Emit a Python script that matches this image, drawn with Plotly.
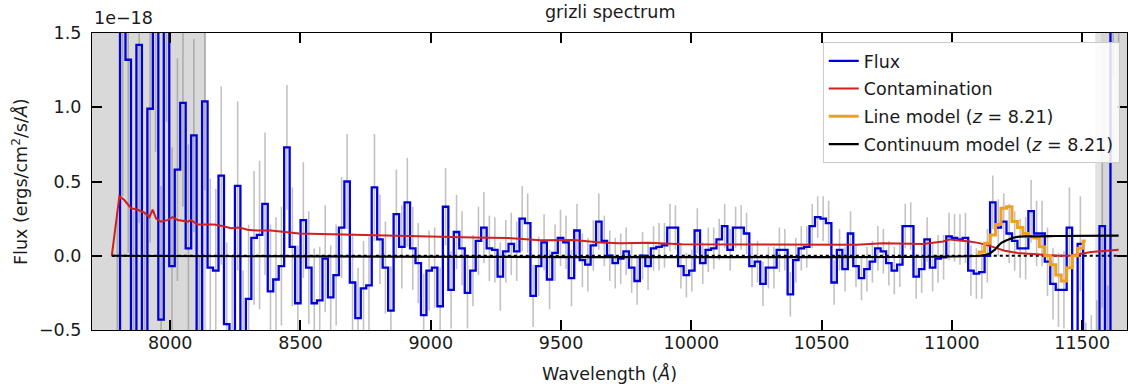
import numpy as np
import plotly.graph_objects as go

# ---------------------------------------------------------------------------
# 1D grism spectrum (flux in units of 1e-18 erg/s/cm^2/Å)
# ---------------------------------------------------------------------------
WAVE_START = 7776.0   # Å, centre of the first spectral pixel
WAVE_STEP = 21.0      # Å per spectral pixel

FLUX = [
    np.nan, -0.90, 1.90, 1.32, -0.80, 1.42, -0.70, 0.99, 1.70, -0.43,
    1.80, -0.07, 0.58, 1.03, 0.05, 0.81, -0.70, 1.04, -0.08, -0.10,
    0.54, -0.46, -0.60, 0.47, -0.60, -0.29, 0.12, 0.14, 0.35, -0.24,
    -0.16, -0.07, 0.73, 0.06, -0.32, 0.24, -0.08, -0.32, -0.30, -0.02,
    -0.28, -0.13, 0.19, 0.50, -0.18, -0.42, -0.22, -0.20, 0.46, 0.11,
    -0.08, -0.37, 0.28, 0.06, 0.36, 0.05, -0.05, -0.40, -0.10, -0.08,
    -0.34, 0.33, -0.23, 0.16, 0.05, -0.25, -0.10, 0.10, 0.19, 0.05,
    0.04, -0.14, 0.03, 0.08, 0.03, 0.25, 0.22, -0.27, -0.07, 0.09,
    -0.16, 0.02, 0.12, 0.09, -0.15, 0.17, -0.03, -0.06, 0.07, 0.23,
    0.10, 0.00, -0.05, -0.02, 0.03, -0.08, -0.17, 0.00, -0.07, 0.05,
    0.06, 0.07, 0.19, 0.19, -0.07, -0.13, -0.10, 0.17, -0.05, 0.04,
    0.05, 0.11, 0.20, 0.04, 0.19, 0.19, 0.15, -0.07, -0.04, -0.19,
    -0.08, -0.08, 0.04, 0.04, -0.26, -0.03, 0.05, 0.06, 0.20, 0.26,
    0.25, 0.22, -0.18, 0.04, -0.09, 0.15, -0.07, -0.15, -0.09, -0.04,
    0.05, 0.03, -0.05, -0.10, -0.06, 0.20, 0.20, -0.14, -0.09, 0.11,
    -0.08, -0.02, -0.01, 0.13, 0.12, 0.11, 0.12, -0.10, -0.12, -0.11,
    0.00, 0.36, 0.19, 0.23, 0.15, 0.10, 0.05, 0.05, 0.30, 0.15,
    0.15, -0.04, -0.19, -0.23, -0.23, 0.19, -0.80, 0.08, -0.80, -0.80,
    -0.80, 0.20, -0.80, 2.00, 2.00,
]

FLUX_ERR = [
    np.nan, 1.20, 1.50, 1.30, 1.10, 1.20, 1.00, 0.90, 1.00, 0.90,
    0.90, 0.80, 0.75, 0.70, 0.70, 0.65, 0.70, 0.60, 0.60, 0.55,
    0.60, 0.55, 0.60, 0.57, 0.50, 0.50, 0.45, 0.50, 0.48, 0.45,
    0.42, 0.40, 0.42, 0.40, 0.39, 0.39, 0.38, 0.37, 0.36, 0.36,
    0.35, 0.34, 0.34, 0.32, 0.33, 0.34, 0.32, 0.33, 0.36, 0.30,
    0.31, 0.30, 0.30, 0.28, 0.30, 0.28, 0.27, 0.28, 0.27, 0.27,
    0.26, 0.26, 0.26, 0.25, 0.25, 0.24, 0.24, 0.23, 0.24, 0.22,
    0.22, 0.23, 0.21, 0.21, 0.20, 0.22, 0.20, 0.21, 0.20, 0.19,
    0.20, 0.19, 0.19, 0.18, 0.19, 0.18, 0.18, 0.18, 0.17, 0.19,
    0.17, 0.17, 0.17, 0.17, 0.16, 0.17, 0.16, 0.16, 0.16, 0.15,
    0.16, 0.15, 0.16, 0.15, 0.15, 0.15, 0.14, 0.15, 0.14, 0.15,
    0.14, 0.14, 0.15, 0.14, 0.14, 0.15, 0.14, 0.14, 0.14, 0.15,
    0.14, 0.14, 0.15, 0.14, 0.15, 0.15, 0.15, 0.14, 0.15, 0.14,
    0.15, 0.15, 0.15, 0.14, 0.15, 0.15, 0.14, 0.15, 0.15, 0.14,
    0.15, 0.15, 0.15, 0.16, 0.15, 0.15, 0.16, 0.15, 0.16, 0.15,
    0.16, 0.16, 0.15, 0.16, 0.16, 0.17, 0.17, 0.17, 0.17, 0.18,
    0.18, 0.18, 0.19, 0.19, 0.20, 0.20, 0.20, 0.21, 0.21, 0.22,
    0.22, 0.23, 0.24, 0.25, 0.26, 0.27, 0.30, 0.32, 0.35, 0.40,
    0.50, 0.55, 0.60, 0.80, 1.00,
]

WAVE = WAVE_START + WAVE_STEP * np.arange(len(FLUX))

# Contamination model
CONTAM_WAVE = [
    7776, 7805, 7824, 7850, 7875, 7901, 7920, 7933, 7946, 7965,
    7990, 8009, 8029, 8067, 8080, 8105, 8137, 8169, 8201, 8233,
    8265, 8297, 8335, 8386, 8495, 8622, 8750, 8878, 8980, 9057,
    9165, 9293, 9420, 9548, 9650, 9727, 9835, 9963, 10091, 10219,
    10398, 10634, 10736, 10889, 10966, 10991, 11068, 11106, 11151, 11202,
    11253, 11330, 11406, 11457, 11534, 11640,
]
CONTAM_FLUX = [
    0.000, 0.400, 0.375, 0.320, 0.310, 0.290, 0.260, 0.310, 0.250, 0.230,
    0.240, 0.260, 0.240, 0.230, 0.240, 0.210, 0.210, 0.210, 0.200, 0.185,
    0.190, 0.175, 0.170, 0.170, 0.150, 0.145, 0.136, 0.135, 0.130, 0.123,
    0.123, 0.120, 0.105, 0.106, 0.090, 0.085, 0.088, 0.078, 0.078, 0.074,
    0.074, 0.074, 0.085, 0.079, 0.096, 0.110, 0.096, 0.085, 0.063, 0.034,
    0.018, 0.007, 0.000, 0.002, 0.025, 0.040,
]

# Continuum model at z = 8.21
CONT_WAVE = [7776, 11110, 11138, 11164, 11189, 11215, 11240, 11279, 11400, 11640]
CONT_FLUX = [0.000, 0.000, 0.010, 0.040, 0.085, 0.107, 0.123, 0.130, 0.133, 0.136]

# Line model at z = 8.21, on the spectral pixels starting at LINE_FIRST_PIXEL
LINE_FIRST_PIXEL = 158
LINE_MODEL = [
    0.000, 0.025, 0.085, 0.140, 0.210, 0.320, 0.330, 0.230, 0.190, 0.150,
    0.130, 0.120, 0.060, 0.000, -0.060, -0.130, -0.170, -0.080, 0.000, 0.050,
    0.100,
]

# Low-sensitivity wavelength ranges shaded in grey (fill colour per range)
MASK_RANGES = [(7700, 8138, "#d9d9d9"), (11550, 11572, "#e3e3e3"),
               (11572, 11672, "#d6d6d6")]

X_RANGE = [7700, 11672]
Y_RANGE = [-0.5, 1.5]
X_TICKS = [8000, 8500, 9000, 9500, 10000, 10500, 11000, 11500]
Y_TICKS = [-0.5, 0.0, 0.5, 1.0, 1.5]

FONT = "DejaVu Sans"
FS = 17.5

fig = go.Figure()

for lo, hi, shade in MASK_RANGES:
    fig.add_vrect(x0=lo, x1=hi, fillcolor=shade, opacity=1.0,
                  line_width=0, layer="below")

# error bars
fig.add_trace(go.Scatter(
    x=WAVE, y=FLUX, mode="markers",
    marker=dict(size=1, opacity=0),
    error_y=dict(type="data", array=FLUX_ERR, visible=True,
                 color="rgba(120,120,120,0.45)", thickness=1.6, width=0),
    showlegend=False, hoverinfo="skip",
))

# dotted zero reference
fig.add_trace(go.Scatter(
    x=[WAVE[0], WAVE[-1]], y=[0, 0], mode="lines",
    line=dict(color="black", width=2, dash="dot"),
    showlegend=False, hoverinfo="skip",
))

fig.add_trace(go.Scatter(
    x=WAVE, y=FLUX, mode="lines", name="Flux", legendgroup="flux",
    line=dict(color="#0000dd", width=2.3, shape="hvh"),
))

fig.add_trace(go.Scatter(
    x=CONTAM_WAVE, y=CONTAM_FLUX, mode="lines", name="Contamination",
    legendgroup="contam",
    line=dict(color="#d02020", width=2),
))

line_wave = WAVE[LINE_FIRST_PIXEL:LINE_FIRST_PIXEL + len(LINE_MODEL)]
fig.add_trace(go.Scatter(
    x=line_wave, y=LINE_MODEL, mode="lines",
    name="Line model (<i>z</i> = 8.21)", legendgroup="line",
    line=dict(color="#f0a020", width=3, shape="hvh"),
))

fig.add_trace(go.Scatter(
    x=CONT_WAVE, y=CONT_FLUX, mode="lines",
    name="Continuum model (<i>z</i> = 8.21)", legendgroup="cont",
    line=dict(color="black", width=2.2, shape="spline", smoothing=0.6),
))

axis_common = dict(
    ticks="inside", ticklen=10, tickwidth=1.5, tickcolor="black",
    showline=True, linecolor="black", linewidth=1.2, mirror="allticks",
    showgrid=False, zeroline=False,
    tickfont=dict(family=FONT, size=FS, color="#1a1a1a"),
)

fig.update_xaxes(range=X_RANGE, tickvals=X_TICKS,
                 ticktext=[str(t) for t in X_TICKS],
                 ticklabelstandoff=-3, **axis_common)
fig.update_yaxes(range=Y_RANGE, tickvals=Y_TICKS,
                 ticktext=[f"{t:.1f}".replace("-", "\u2212") for t in Y_TICKS],
                 ticklabelstandoff=6, **axis_common)

fig.update_layout(
    width=1128, height=385,
    margin=dict(l=92, r=1, t=33, b=55),
    paper_bgcolor="white", plot_bgcolor="white",
    font=dict(family=FONT, size=FS, color="#1a1a1a"),
    showlegend=True,
    legend=dict(
        x=0.993, xanchor="right", y=0.97, yanchor="top",
        bgcolor="rgba(255,255,255,0.85)", bordercolor="#cccccc", borderwidth=1,
        font=dict(family=FONT, size=FS, color="#1a1a1a"),
        tracegroupgap=2,
    ),
    annotations=[
        dict(text="grizli spectrum", xref="paper", yref="paper",
             x=0.5, y=1.072, xanchor="center", yanchor="middle",
             showarrow=False, font=dict(family=FONT, size=FS)),
        dict(text="1e\u221218", xref="paper", yref="paper",
             x=0.0, y=1.05, xanchor="left", yanchor="middle",
             showarrow=False, font=dict(family=FONT, size=FS)),
        dict(text="Wavelength (<i>Å</i>)", xref="paper", yref="paper",
             x=0.5, y=-0.145, xanchor="center", yanchor="middle",
             showarrow=False, font=dict(family=FONT, size=FS)),
        dict(text="Flux (ergs/cm<sup>2</sup>/s/<i>Å</i>)", xref="paper",
             yref="paper", x=-0.07, y=0.5, xanchor="center",
             yanchor="middle", textangle=-90, showarrow=False,
             font=dict(family=FONT, size=FS)),
    ],
)

fig.write_html("out.html")
